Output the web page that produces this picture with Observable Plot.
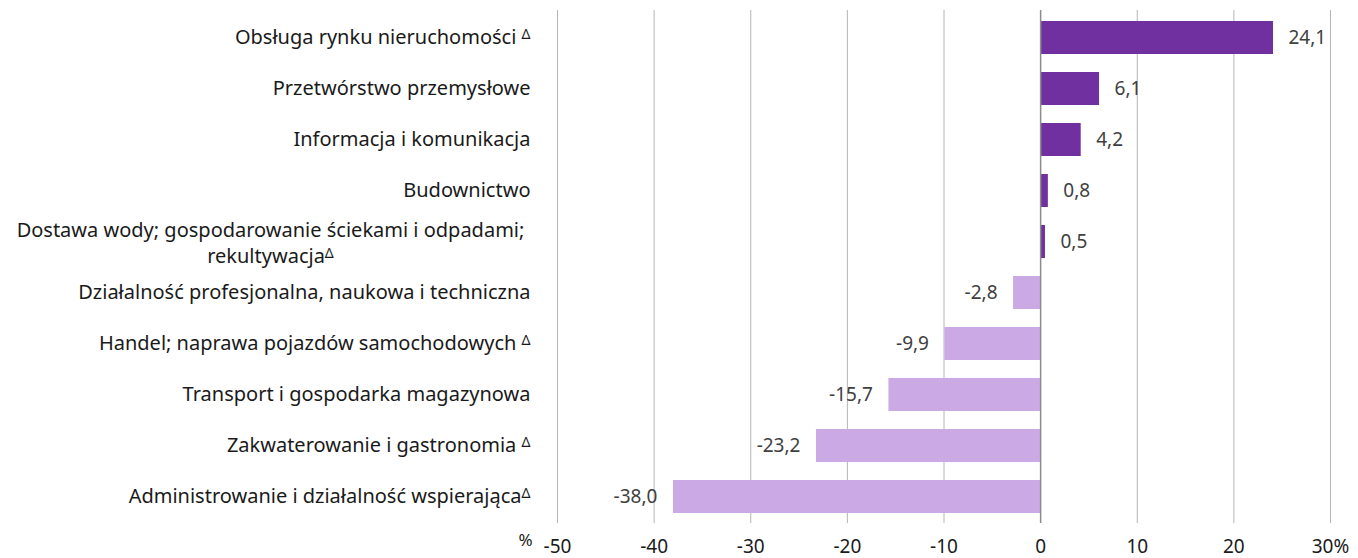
<!DOCTYPE html>
<html><head><meta charset="utf-8">
<script src="https://cdn.jsdelivr.net/npm/d3@7"></script>
<script src="https://cdn.jsdelivr.net/npm/@observablehq/plot@0.6"></script>
<style>
body{margin:0;background:#fff;font-family:"Noto Sans",sans-serif}
</style>
</head><body><div id="chart"></div>
<script>
const categories = [
  "Obsługa rynku nieruchomości Δ",
  "Przetwórstwo przemysłowe",
  "Informacja i komunikacja",
  "Budownictwo",
  "Dostawa wody; gospodarowanie ściekami i odpadami;\nrekultywacjaΔ",
  "Działalność profesjonalna, naukowa i techniczna",
  "Handel; naprawa pojazdów samochodowych Δ",
  "Transport i gospodarka magazynowa",
  "Zakwaterowanie i gastronomia Δ",
  "Administrowanie i działalność wspierającaΔ"
];
const values = [24.1, 6.1, 4.2, 0.8, 0.5, -2.8, -9.9, -15.7, -23.2, -38.0];
const xTicks = [-50, -40, -30, -20, -10, 0, 10, 20, 30];

const data = categories.map((c, i) => ({category: c, value: values[i]}));
const fmt = v => v.toFixed(1).replace(".", ",");
const posColor = "#7030A0", negColor = "#CAA9E4";

const chart = Plot.plot({
  width: 1358, height: 558,
  marginLeft: 557, marginRight: 28, marginTop: 10, marginBottom: 35,
  style: {fontFamily: '"Noto Sans", sans-serif', fontSize: "19px", color: "#404040", background: "#fff"},
  x: {domain: [-50, 30], axis: null},
  y: {domain: categories, padding: 0, axis: null},
  marks: [
    Plot.ruleX(xTicks.filter(t => t !== 0), {stroke: "#b4b4b4", strokeWidth: 1}),
    Plot.barX(data, {x: "value", y: "category", insetTop: 9, insetBottom: 9, fill: d => d.value >= 0 ? posColor : negColor}),
    Plot.ruleX([0], {stroke: "#8c8c8c", strokeWidth: 1.5}),
    Plot.text(data.filter(d => d.value >= 0), {x: "value", y: "category", text: d => fmt(d.value), textAnchor: "start", dx: 15, fontSize: 19, fill: "#404040"}),
    Plot.text(data.filter(d => d.value < 0), {x: "value", y: "category", text: d => fmt(d.value), textAnchor: "end", dx: -16, fontSize: 19, fill: "#404040"}),
    Plot.text(data.filter(d => !d.category.includes("\n")), {y: "category", frameAnchor: "left", text: "category", textAnchor: "end", dx: -27, fontSize: 20, fill: "#1a1a1a"}),
    Plot.text(data.filter(d => d.category.includes("\n")), {y: "category", frameAnchor: "left", text: "category", textAnchor: "middle", dx: -287, lineHeight: 1.3, fontSize: 20, fill: "#1a1a1a"}),
    Plot.axisX(xTicks, {tickSize: 0, tickPadding: 16, fontSize: 19, fill: "#1a1a1a", label: null, tickFormat: d => d === 30 ? "30%" : String(d)}),
    Plot.text(["%"], {frameAnchor: "bottom-left", dx: -32, dy: 22, textAnchor: "middle", fontSize: 17, fill: "#1a1a1a"})
  ]
});

// superscript Δ
chart.querySelectorAll("text, tspan").forEach(el => {
  if (el.children.length === 0 && el.textContent.includes("Δ")) {
    const t = el.textContent.replace("Δ", "");
    el.textContent = t;
    const s = document.createElementNS("http://www.w3.org/2000/svg", "tspan");
    s.setAttribute("dy", "-0.4em");
    s.setAttribute("font-size", "14");
    s.textContent = "Δ";
    el.appendChild(s);
  }
});
document.getElementById("chart").appendChild(chart);
</script>
</body></html>
